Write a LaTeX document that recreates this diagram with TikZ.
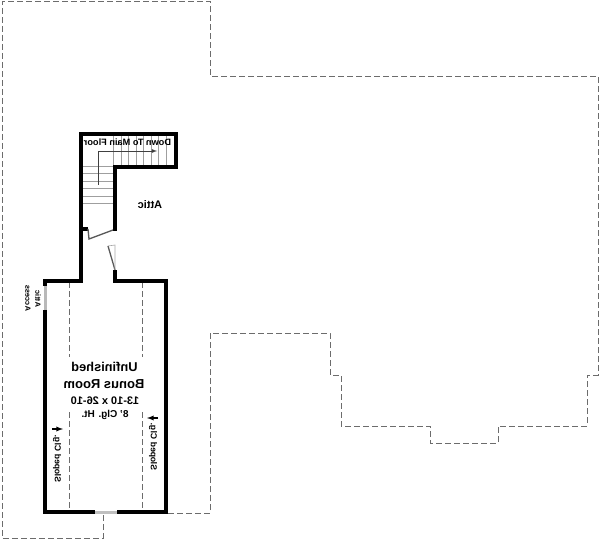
\documentclass[tikz,border=0pt]{standalone}
\usepackage{fontspec}
\setmainfont{Liberation Sans}
\begin{document}
\begin{tikzpicture}[x=1pt,y=1pt,
  wall/.style={line width=3.4pt, black},
  outline/.style={line width=0.8pt, gray!85!black, dash pattern=on 6pt off 3pt},
  tread/.style={line width=0.6pt, gray!75},
  doorleaf/.style={line width=1.3pt, gray!70!black},
  flipped/.style={xscale=-1, transform shape, font=\bfseries, inner sep=0pt}]
\useasboundingbox (0,0) rectangle (600,-540);
% roof outline
\draw[outline] (168,-513) -- (210,-513) -- (210,-333) -- (330,-333) -- (330,-375) -- (341,-375) -- (341,-426) -- (430,-426) -- (430,-443) -- (498,-443) -- (498,-426) -- (587,-426) -- (587,-375) -- (598,-375) -- (598,-76) -- (210,-76) -- (210,-1.5) -- (2,-1.5) -- (2,-538) -- (103,-538) -- (103,-514);
% sloped ceiling lines
\draw[outline] (69,-282) -- (69,-357);
\draw[outline] (69,-412) -- (69,-511);
\draw[outline] (142,-282) -- (142,-357);
\draw[outline] (142,-412) -- (142,-511);
% walls
\draw[wall] (81,-229) -- (81,-134) -- (176,-134) -- (176,-167) -- (115,-167) -- (115,-231);
\draw[wall] (81,-229) -- (81,-281) -- (45,-281) -- (45,-286);
\draw[wall] (45,-310) -- (45,-512) -- (95,-512);
\draw[wall] (117,-512) -- (166,-512) -- (166,-281) -- (115,-281) -- (115,-270);
\draw[wall] (79.5,-229) -- (88,-229);
% stairs
\foreach \x in {113,121,128,136,143,151,158,166} \draw[tread] (\x,-136) -- (\x,-165);
\foreach \y in {166,173,181,188,196,203} \draw[tread] (83,-\y) -- (113,-\y);
\draw[line width=0.8pt, black!75, -latex] (98,-185) -- (98,-151) -- (157,-151);
% doors
\draw[doorleaf] (88,-229) -- (89,-239) -- (113,-230);
\draw[doorleaf] (108,-246) -- (115,-270);
\draw[line width=0.6pt, gray!70] (108,-246) -- (115,-245) -- (115,-270);
% windows
\draw[line width=3pt, gray!55] (45,-286) -- (45,-310);
\draw[line width=3pt, gray!50] (95,-512) -- (117,-512);
% labels
\node[flipped, font=\bfseries\fontsize{11}{13}\selectfont] (attic) at (150,-205) {Attic};
\node[flipped, font=\bfseries\fontsize{9.2}{11}\selectfont] (stair) at (127.5,-142) {Down To Main Floor};
\node[flipped, font=\bfseries\fontsize{12.8}{15}\selectfont] (room) at (104.5,-367) {Unfinished};
\node[flipped, font=\bfseries\fontsize{13}{15}\selectfont] (bonus) at (104,-384) {Bonus Room};
\node[flipped, font=\bfseries\fontsize{11}{13}\selectfont] (size) at (105,-401) {13-10 x 26-10};
\node[flipped, font=\bfseries\fontsize{10}{12}\selectfont] (clg) at (105,-415) {8' Clg. Ht.};
\node[flipped, rotate=90, font=\bfseries\fontsize{8.6}{10}\selectfont] (slopeL) at (57,-459) {Sloped Clg.};
\node[flipped, rotate=90, font=\bfseries\fontsize{8.6}{10}\selectfont] (slopeR) at (153,-447) {Sloped Clg.};
\draw[line width=1.3pt, -latex] (52,-429) -- (63,-429);
\draw[line width=1.3pt, -latex] (158,-418) -- (147,-418);
\node[flipped, rotate=90, font=\bfseries\fontsize{7.5}{9}\selectfont] (attic2) at (38,-299) {Attic};
\node[flipped, rotate=90, font=\bfseries\fontsize{7.5}{9}\selectfont] (access) at (28,-298) {Access};
\end{tikzpicture}
\end{document}
